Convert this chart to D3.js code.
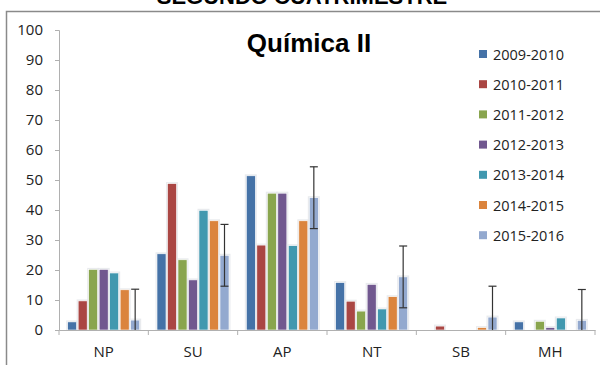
<!DOCTYPE html>
<html>
<head>
<meta charset="utf-8">
<script src="https://cdn.jsdelivr.net/npm/d3@7/dist/d3.min.js"></script>
<style>
  html, body { margin: 0; padding: 0; background: #fff; }
  svg { display: block; }
</style>
</head>
<body>
<svg id="chart" width="600" height="365"></svg>
<script>
const categories = ["NP", "SU", "AP", "NT", "SB", "MH"];
const seriesNames = ["2009-2010", "2010-2011", "2011-2012", "2012-2013", "2013-2014", "2014-2015", "2015-2016"];
const s2009 = [2.7, 25.4, 51.4, 15.8, 0, 2.7];
const s2010 = [9.7, 48.8, 28.3, 9.6, 1.3, 0];
const s2011 = [20.2, 23.4, 45.6, 6.3, 0, 2.9];
const s2012 = [20.2, 16.7, 45.6, 15.2, 0, 0.8];
const s2013 = [19.0, 39.9, 28.1, 7.0, 0, 4.0];
const s2014 = [13.4, 36.4, 36.4, 11.1, 0.8, 0];
const s2015 = [3.3, 24.9, 44.1, 17.7, 4.3, 3.2];
const errors2015 = [10.3, 10.3, 10.3, 10.3, 10.3, 10.3];
const yTicks = [0, 10, 20, 30, 40, 50, 60, 70, 80, 90, 100];
const colors = ["#4572A7", "#AA4643", "#89A54E", "#71588F", "#4198AF", "#DB843D", "#93A9CF"];
const seriesValues = [s2009, s2010, s2011, s2012, s2013, s2014, s2015];

const svg = d3.select("#chart");
const font = "'Open Sans', 'Liberation Sans', sans-serif";

// outer chart border
svg.append("rect").attr("x", 6.5).attr("y", 11.5).attr("width", 600).attr("height", 400)
  .attr("fill", "#fff").attr("stroke", "#8a8a8a").attr("stroke-width", 1.5);

// page heading (partly above the visible area, as in the reference)
svg.append("text").attr("x", 302).attr("y", 4).attr("text-anchor", "middle")
  .attr("font-family", "'Liberation Sans', sans-serif").attr("font-weight", "bold")
  .attr("font-size", 22).attr("fill", "#000").text("SEGUNDO CUATRIMESTRE");

const plotLeft = 59, plotRight = 595, plotTop = 30, plotBottom = 330;

const y = d3.scaleLinear().domain([0, 100]).range([plotBottom, plotTop]);
const x0 = d3.scaleBand().domain(categories).range([plotLeft, plotRight]).padding(0);
const padG = (x0.bandwidth() - 73.5) / 2;
const x1 = d3.scaleBand().domain(seriesNames).range([padG, x0.bandwidth() - padG]).padding(0);
const barW = 9;

// title
svg.append("text").attr("x", 309).attr("y", 52).attr("text-anchor", "middle")
  .attr("font-family", "'Liberation Sans', sans-serif").attr("font-weight", "bold")
  .attr("font-size", 26).attr("fill", "#000").text("Química II");

// y axis
const yAxis = svg.append("g").attr("transform", `translate(${plotLeft},0)`)
  .call(d3.axisLeft(y).tickValues(yTicks).tickSize(4).tickPadding(12));
yAxis.select(".domain").attr("stroke", "#b0b0b0");
yAxis.selectAll(".tick line").attr("stroke", "#b0b0b0");
yAxis.selectAll(".tick text").attr("font-family", font).attr("font-size", 15).attr("fill", "#222");

// bars
const groups = svg.append("g").selectAll("g").data(categories).join("g")
  .attr("transform", d => `translate(${x0(d)},0)`);

seriesNames.forEach((name, si) => {
  groups.each(function(cat, ci) {
    const v = seriesValues[si][ci];
    const g = d3.select(this);
    const bx = x1(name) + (x1.bandwidth() - barW) / 2;
    g.append("rect").attr("x", bx - 1.5).attr("y", y(v) - 1.5)
      .attr("width", barW + 3).attr("height", Math.max(0, plotBottom - y(v) + 1.5))
      .attr("fill", "#e4e6ea").attr("opacity", v > 0 ? 0.8 : 0);
    g.append("rect").attr("x", bx).attr("y", y(v))
      .attr("width", barW).attr("height", plotBottom - y(v))
      .attr("fill", colors[si]).attr("stroke", "#fff").attr("stroke-width", 0.6);
  });
});

// x axis
const xAxis = svg.append("g").attr("transform", `translate(0,${plotBottom})`)
  .call(d3.axisBottom(x0).tickSize(0).tickPadding(16));
xAxis.select(".domain").attr("stroke", "#b0b0b0");
xAxis.selectAll(".tick text").attr("font-family", font).attr("font-size", 15).attr("fill", "#222");
const boundaries = categories.map(c => x0(c)).concat([plotRight]);
svg.append("g").selectAll("line").data(boundaries).join("line")
  .attr("x1", d => d).attr("x2", d => d).attr("y1", plotBottom).attr("y2", plotBottom + 5)
  .attr("stroke", "#b0b0b0");

// error bars on 2015-2016
const eg = svg.append("g");
categories.forEach((cat, ci) => {
  const cx = x0(cat) + x1("2015-2016") + x1.bandwidth() / 2;
  const v = s2015[ci], e = errors2015[ci];
  const hi = y(v + e), lo = y(Math.max(0, v - e));
  eg.append("line").attr("x1", cx).attr("x2", cx).attr("y1", hi).attr("y2", lo)
    .attr("stroke", "#333").attr("stroke-width", 1.2);
  eg.append("line").attr("x1", cx - 4).attr("x2", cx + 4).attr("y1", hi).attr("y2", hi)
    .attr("stroke", "#333").attr("stroke-width", 1.2);
  if (v - e > 0) {
    eg.append("line").attr("x1", cx - 4).attr("x2", cx + 4).attr("y1", lo).attr("y2", lo)
      .attr("stroke", "#333").attr("stroke-width", 1.2);
  }
});

// legend
const legend = svg.append("g").selectAll("g").data(seriesNames).join("g")
  .attr("transform", (d, i) => `translate(479,${54 + i * 30.2})`);
legend.append("rect").attr("x", 0).attr("y", -4).attr("width", 8).attr("height", 8)
  .attr("fill", (d, i) => colors[i]);
legend.append("text").attr("x", 14).attr("y", 5.5)
  .attr("font-family", font).attr("font-size", 14.5).attr("fill", "#222").text(d => d);
</script>
</body>
</html>
